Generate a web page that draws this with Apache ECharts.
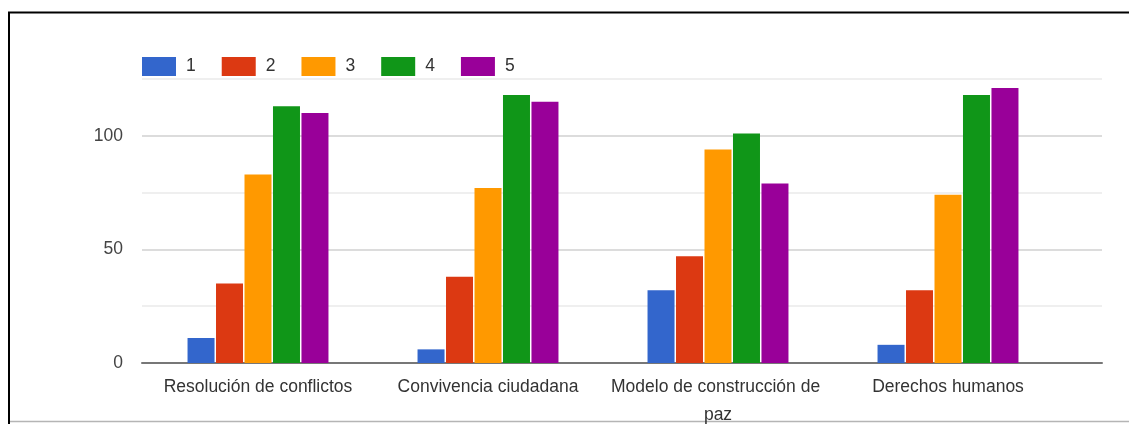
<!DOCTYPE html>
<html>
<head>
<meta charset="utf-8">
<script src="https://cdn.jsdelivr.net/npm/echarts@6/dist/echarts.min.js"></script>
<style>
  html, body { margin: 0; padding: 0; background: #ffffff; }
  #chart { width: 1129px; height: 424px; }
</style>
</head>
<body>
<div id="chart"></div>
<script>
const categories = ['Resolución de conflictos', 'Convivencia ciudadana', 'Modelo de construcción de paz', 'Derechos humanos'];
const seriesNames = ['1', '2', '3', '4', '5'];
const values1 = [11, 6, 32, 8];
const values2 = [35, 38, 47, 32];
const values3 = [83, 77, 94, 74];
const values4 = [113, 118, 101, 118];
const values5 = [110, 115, 79, 121];
const yTickLabels = ['0', '50', '100'];
const colors = ['#3366cc', '#dc3912', '#ff9900', '#109618', '#990099'];

const allValues = [values1, values2, values3, values4, values5];
const FONT = 'Arial, "Liberation Sans", sans-serif';

const chart = echarts.init(document.getElementById('chart'), null, { renderer: 'canvas' });

const series = seriesNames.map((name, i) => ({
  name: name,
  type: 'bar',
  xAxisIndex: 0,
  yAxisIndex: 0,
  data: allValues[i],
  barWidth: 27,
  barGap: '5.5%',
  itemStyle: { color: colors[i] },
  emphasis: { disabled: true }
}));

const option = {
  animation: false,
  backgroundColor: '#ffffff',
  color: colors,
  textStyle: { fontFamily: FONT },
  legend: {
    left: 142,
    top: 57,
    padding: 0,
    itemWidth: 34,
    itemHeight: 19,
    itemGap: 26,
    icon: 'rect',
    data: seriesNames,
    textStyle: { fontSize: 17.5, color: '#333', fontFamily: FONT, padding: [0, 0, 0, 5] }
  },
  grid: [
    { left: 143, width: 920, top: 79, height: 284, containLabel: false, outerBoundsMode: 'none' },
    { left: 142, width: 960, top: 79, height: 284, containLabel: false, outerBoundsMode: 'none' }
  ],
  xAxis: [
    {
      type: 'category',
      gridIndex: 0,
      data: categories,
      axisLine: { show: false },
      axisTick: { show: false },
      splitLine: { show: false },
      axisLabel: {
        interval: 0,
        margin: 10,
        fontSize: 17.5,
        lineHeight: 28,
        color: '#333',
        fontFamily: FONT,
        width: 225,
        overflow: 'break'
      }
    },
    {
      type: 'value',
      gridIndex: 1,
      min: 0,
      max: 1,
      axisLine: { show: true, lineStyle: { color: '#777777', width: 2 } },
      axisTick: { show: false },
      axisLabel: { show: false },
      splitLine: { show: false }
    }
  ],
  yAxis: [
    {
      type: 'value',
      gridIndex: 0,
      min: 0,
      max: 125,
      interval: 25,
      axisLine: { show: false },
      axisTick: { show: false },
      axisLabel: { show: false },
      splitLine: { show: false }
    },
    {
      type: 'value',
      gridIndex: 1,
      min: 0,
      max: 125,
      interval: 25,
      axisLine: { show: false },
      axisTick: { show: false },
      axisLabel: {
        margin: 19,
        fontSize: 17.5,
        color: '#444',
        fontFamily: FONT,
        formatter: v => (yTickLabels.indexOf(String(v)) >= 0 ? String(v) : '')
      },
      splitLine: { show: true, lineStyle: { color: ['#dcdcdc', '#efefef'], width: 2 } }
    }
  ],
  graphic: [
    { type: 'line', silent: true, shape: { x1: 8, y1: 12.5, x2: 1129, y2: 12.5 }, style: { stroke: '#000', lineWidth: 2 } },
    { type: 'line', silent: true, shape: { x1: 9, y1: 12, x2: 9, y2: 424 }, style: { stroke: '#000', lineWidth: 2 } },
    { type: 'line', silent: true, shape: { x1: 10, y1: 421.5, x2: 1129, y2: 421.5 }, style: { stroke: '#b5b5b5', lineWidth: 1.5 } }
  ],
  series: series
};

chart.setOption(option);
</script>
</body>
</html>
